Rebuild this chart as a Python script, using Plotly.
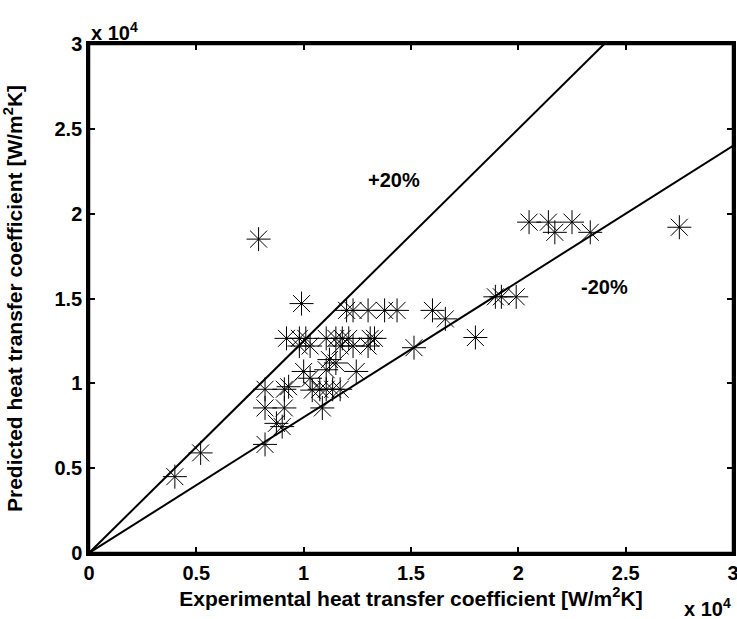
import plotly.graph_objects as go

# data in units of 10^4 W/m2K
exp_x = [0.40, 0.52, 0.79, 0.82,
         0.82, 0.91, 1.087,
         0.873, 0.90,
         0.82, 0.91, 0.93, 1.04, 1.075, 1.105, 1.135, 1.17,
         1.00, 1.03, 1.105, 1.12, 1.15, 1.245,
         0.92, 0.98, 1.01, 1.105, 1.15, 1.18, 1.21, 1.31, 1.33,
         0.98, 1.03, 1.17, 1.23, 1.30,
         0.99,
         1.20, 1.23, 1.30, 1.377, 1.435,
         1.60, 1.66, 1.514, 1.80,
         1.893, 1.921, 1.99,
         2.05, 2.14, 2.17, 2.25, 2.335, 2.75]
pred_y = [0.45, 0.59, 1.85, 0.64,
          0.855, 0.855, 0.855,
          0.764, 0.745,
          0.965, 0.965, 0.98, 0.96, 0.965, 0.965, 0.965, 0.965,
          1.07, 1.03, 1.08, 1.14, 1.12, 1.07,
          1.265, 1.265, 1.265, 1.265, 1.265, 1.265, 1.265, 1.265, 1.265,
          1.22, 1.22, 1.22, 1.22, 1.22,
          1.47,
          1.43, 1.43, 1.43, 1.43, 1.43,
          1.43, 1.38, 1.21, 1.27,
          1.51, 1.51, 1.51,
          1.95, 1.95, 1.89, 1.95, 1.89, 1.92]

upper_slope = 1.25
lower_slope = 0.8
axis_max = 3.0
tick_vals = [0, 0.5, 1, 1.5, 2, 2.5, 3]
tick_text = ["0", "0.5", "1", "1.5", "2", "2.5", "3"]

FONT = "Liberation Sans"

fig = go.Figure()
fig.add_trace(go.Scatter(x=[0, axis_max / upper_slope], y=[0, axis_max], mode="lines",
                         line=dict(color="black", width=2), showlegend=False))
fig.add_trace(go.Scatter(x=[0, axis_max], y=[0, axis_max * lower_slope], mode="lines",
                         line=dict(color="black", width=2), showlegend=False))
fig.add_trace(go.Scatter(x=exp_x, y=pred_y, mode="markers",
                         marker=dict(symbol="asterisk-open", size=20, color="black",
                                     line=dict(color="black", width=1)),
                         showlegend=False))

axis_common = dict(range=[0, axis_max], tickvals=tick_vals,
                   ticktext=["<b>%s</b>" % t for t in tick_text],
                   showline=True, linecolor="black", linewidth=2.5, mirror="ticks",
                   ticks="inside", ticklen=6, tickwidth=1.5, tickcolor="black",
                   showgrid=False, zeroline=False, automargin=False,
                   ticklabeloverflow="allow",
                   tickfont=dict(family=FONT, size=20, color="black"))

fig.update_xaxes(**axis_common,
                 title=dict(text="<b>Experimental heat transfer coefficient [W/m<sup>2</sup>K]</b>",
                            font=dict(family=FONT, size=21, color="black"),
                            standoff=2))
fig.update_yaxes(**axis_common,
                 title=dict(text="<b>Predicted heat transfer coefficient [W/m<sup>2</sup>K]</b>",
                            font=dict(family=FONT, size=21, color="black"),
                            standoff=28))

# plot box (right edge drawn explicitly)
fig.add_shape(type="rect", xref="paper", yref="paper", x0=0, y0=0, x1=1, y1=1,
              line=dict(color="black", width=2.5), layer="above")

ann_font = dict(family=FONT, size=20, color="black")
fig.add_annotation(x=1.42, y=2.2, xref="x", yref="y", text="<b>+20%</b>", showarrow=False, font=ann_font)
fig.add_annotation(x=2.40, y=1.57, xref="x", yref="y", text="<b>-20%</b>", showarrow=False, font=ann_font)
fig.add_annotation(x=0, y=1.0, xref="paper", yref="paper", xanchor="left", yanchor="bottom",
                   text="<b>x 10<sup>4</sup></b>", showarrow=False, font=ann_font, yshift=-2)
fig.add_annotation(x=1.0, y=-0.078, xref="paper", yref="paper", xanchor="right", yanchor="top",
                   text="<b>x 10<sup>4</sup></b>", showarrow=False, font=ann_font)

fig.update_layout(width=737, height=619, margin=dict(l=89, r=4, t=44, b=66, autoexpand=False),
                  paper_bgcolor="white", plot_bgcolor="white")

fig.write_html("out.html")
